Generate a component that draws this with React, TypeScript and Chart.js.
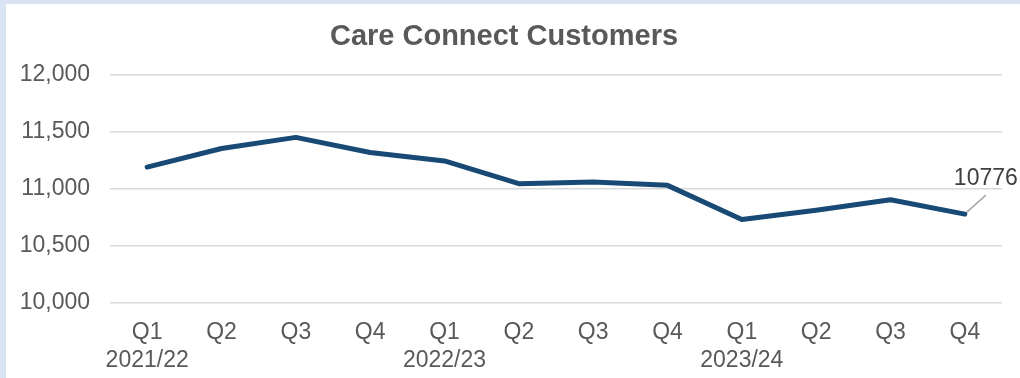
import React, { useEffect, useRef } from "react";
import { Chart, registerables } from "chart.js";

Chart.register(...registerables);

const TITLE = "Care Connect Customers";
const QUARTERS = ["Q1", "Q2", "Q3", "Q4", "Q1", "Q2", "Q3", "Q4", "Q1", "Q2", "Q3", "Q4"];
const YEARS = ["2021/22", "", "", "", "2022/23", "", "", "", "2023/24", "", "", ""];
const CUSTOMERS = [11190, 11353, 11451, 11318, 11244, 11044, 11058, 11029, 10729, 10810, 10903, 10776];
const Y_MIN = 10000;
const Y_MAX = 12000;
const Y_STEP = 500;

const FONT = "'Liberation Sans', Arial, sans-serif";
const TEXT = "#595959";

const lastLabelPlugin = {
  id: "lastLabel",
  afterDatasetsDraw(chart: any) {
    const meta = chart.getDatasetMeta(0);
    const i = meta.data.length - 1;
    const pt = meta.data[i];
    if (!pt) return;
    const { x, y } = pt;
    const ctx = chart.ctx;
    ctx.save();
    ctx.strokeStyle = "#a6a6a6";
    ctx.lineWidth = 1.5;
    ctx.beginPath();
    ctx.moveTo(x + 2, y - 2);
    ctx.lineTo(x + 21, y - 19);
    ctx.stroke();
    ctx.fillStyle = "#404040";
    ctx.font = `23px ${FONT}`;
    ctx.textAlign = "center";
    ctx.textBaseline = "middle";
    ctx.fillText(String(chart.data.datasets[0].data[i]), x + 21, y - 35);
    ctx.restore();
  },
};

export default function App() {
  const ref = useRef<HTMLCanvasElement>(null);
  useEffect(() => {
    if (!ref.current) return;
    const labels = QUARTERS.map((q, i) => (YEARS[i] ? [q, YEARS[i]] : q));
    const chart = new Chart(ref.current, {
      type: "line",
      data: {
        labels,
        datasets: [
          {
            data: CUSTOMERS,
            borderColor: "#184A75",
            borderWidth: 5,
            pointRadius: 0,
            borderJoinStyle: "round",
            borderCapStyle: "round",
            tension: 0,
          },
        ],
      },
      options: {
        responsive: false,
        animation: false,
        layout: { padding: { left: 0, right: 18, top: 0, bottom: 0 } },
        plugins: {
          legend: { display: false },
          tooltip: { enabled: false },
          title: {
            display: true,
            text: TITLE,
            color: TEXT,
            font: { family: FONT, size: 29, weight: "bold", lineHeight: 1.2 },
            padding: { top: 15.5, bottom: 20.7 },
          },
        },
        scales: {
          x: {
            offset: true,
            grid: { display: false, drawTicks: false },
            border: { display: false },
            afterFit: (s: any) => {
              s.height = 75.7;
            },
            ticks: {
              color: TEXT,
              font: { family: FONT, size: 23, lineHeight: 1.2 },
              padding: 17,
              maxRotation: 0,
              autoSkip: false,
            },
          },
          y: {
            min: Y_MIN,
            max: Y_MAX,
            grid: { color: "#d9d9d9", lineWidth: 1.5, drawTicks: false },
            border: { display: false },
            afterFit: (s: any) => {
              s.width = 104;
            },
            ticks: {
              stepSize: Y_STEP,
              color: TEXT,
              padding: 20,
              font: { family: FONT, size: 23, lineHeight: 1.2 },
              callback: (v: any) => Number(v).toLocaleString("en-US"),
            },
          },
        },
      },
      plugins: [lastLabelPlugin],
    });
    return () => chart.destroy();
  }, []);
  return (
    <div
      style={{
        position: "fixed",
        left: 0,
        top: 0,
        width: 1020,
        height: 378,
        background: "#dae3f3",
        overflow: "hidden",
      }}
    >
      <canvas
        ref={ref}
        width={1014}
        height={374}
        style={{ position: "absolute", left: 6, top: 4, background: "#ffffff", display: "block" }}
      />
    </div>
  );
}
